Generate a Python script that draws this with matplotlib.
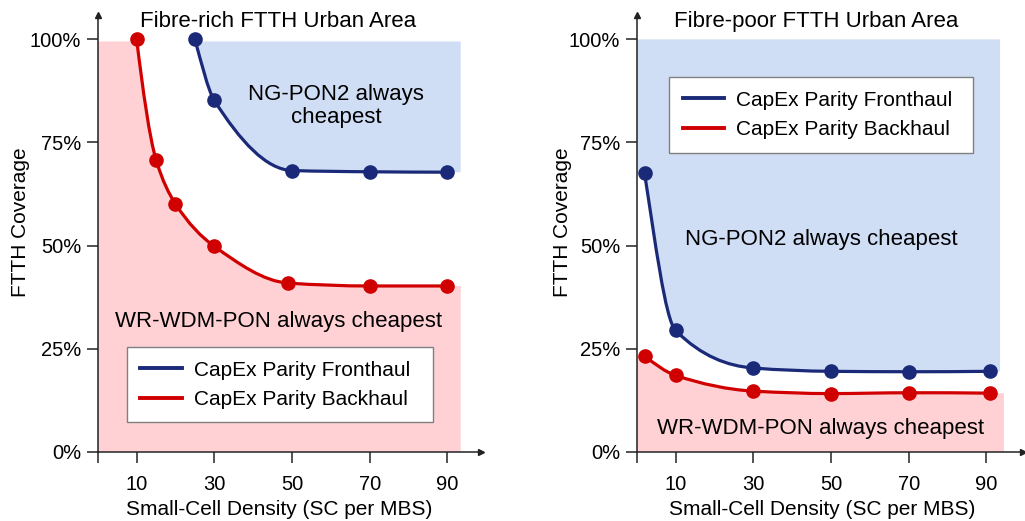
import matplotlib
matplotlib.use('Agg')
import matplotlib.pyplot as plt
from matplotlib.path import Path
from matplotlib.patches import PathPatch
from matplotlib.lines import Line2D
import numpy as np

plt.rcParams['font.family'] = ['Liberation Sans', 'DejaVu Sans']
plt.rcParams['font.size'] = 15

# fibre-rich FTTH area (y in % coverage)
rich_front_x = [25, 30, 50, 70, 90]
rich_front_y = [100, 85.2, 68.2, 67.9, 67.8]
rich_back_x = [10, 15, 20, 30, 49, 70, 90]
rich_back_y = [100, 70.8, 60.1, 49.8, 40.9, 40.2, 40.2]

# fibre-poor FTTH area
poor_front_x = [2, 10, 30, 50, 70, 91]
poor_front_y = [67.6, 29.4, 20.3, 19.5, 19.4, 19.5]
poor_back_x = [2, 10, 30, 50, 70, 91]
poor_back_y = [23.2, 18.5, 14.7, 14.1, 14.3, 14.2]

xticks = [0, 10, 30, 50, 70, 90]
xtick_labels = ['', '10', '30', '50', '70', '90']
yticks = [0, 25, 50, 75, 100]
ytick_labels = ['0%', '25%', '50%', '75%', '100%']

BLUE = '#1B2A78'
RED = '#D10000'
BLUE_FILL = '#CFDDF5'
PINK_FILL = '#FFD1D4'
AXC = '#222222'


def tangents(x, y):
    # monotone (fritsch-carlson) slopes so the smoothed line doesn't overshoot
    h = np.diff(x)
    d = np.diff(y) / h
    n = len(x)
    m = np.zeros(n)
    for k in range(1, n - 1):
        if d[k - 1] * d[k] <= 0:
            m[k] = 0
        else:
            w1 = 2 * h[k] + h[k - 1]
            w2 = h[k] + 2 * h[k - 1]
            m[k] = (w1 + w2) / (w1 / d[k - 1] + w2 / d[k])
    m[0] = d[0] if n < 3 else ((2 * h[0] + h[1]) * d[0] - h[0] * d[1]) / (h[0] + h[1])
    if np.sign(m[0]) != np.sign(d[0]):
        m[0] = 0
    m[-1] = d[-1] if n < 3 else ((2 * h[-1] + h[-2]) * d[-1] - h[-1] * d[-2]) / (h[-1] + h[-2])
    if np.sign(m[-1]) != np.sign(d[-1]):
        m[-1] = 0
    return m


def smooth(xs, ys, reverse=False):
    x = np.asarray(xs, float)
    y = np.asarray(ys, float)
    m = tangents(x, y)
    segs = []
    for i in range(len(x) - 1):
        dx = x[i + 1] - x[i]
        segs.append([(x[i], y[i]), (x[i] + dx / 3, y[i] + m[i] * dx / 3),
                     (x[i + 1] - dx / 3, y[i + 1] - m[i + 1] * dx / 3), (x[i + 1], y[i + 1])])
    if reverse:
        segs = [s[::-1] for s in segs[::-1]]
    verts = [segs[0][0]]
    codes = [Path.MOVETO]
    for s in segs:
        verts += s[1:]
        codes += [Path.CURVE4] * 3
    return verts, codes


def fill_path(ax, before, xs, ys, after, color, reverse=False):
    cv, cc = smooth(xs, ys, reverse)
    verts = list(before) + cv + list(after) + [before[0]]
    codes = [Path.MOVETO] + [Path.LINETO] * len(before) + cc[1:] \
        + [Path.LINETO] * len(after) + [Path.CLOSEPOLY]
    ax.add_patch(PathPatch(Path(verts, codes), facecolor=color, edgecolor='none', zorder=1))


def curve(ax, xs, ys, color):
    v, c = smooth(xs, ys)
    ax.add_patch(PathPatch(Path(v, c), fill=False, edgecolor=color, lw=2.3,
                           capstyle='round', zorder=2))
    ax.plot(xs, ys, 'o', color=color, ms=9.5, zorder=3, clip_on=False)


def setup(ax, xmax):
    ax.set_xlim(0, xmax)
    ax.set_ylim(0, 106)
    for s in ['top', 'right']:
        ax.spines[s].set_visible(False)
    for s in ['left', 'bottom']:
        ax.spines[s].set_linewidth(1.1)
        ax.spines[s].set_color(AXC)
    ax.plot(1, 0, '>', color=AXC, ms=5, transform=ax.transAxes, clip_on=False)
    ax.plot(0, 1, '^', color=AXC, ms=5, transform=ax.transAxes, clip_on=False)
    ax.set_xticks(xticks, xtick_labels)
    ax.set_yticks(yticks, ytick_labels)
    ax.tick_params(axis='both', direction='out', length=8, width=1.1, color=AXC,
                   labelsize=14.5)
    ax.tick_params(axis='x', pad=8.5)
    ax.tick_params(axis='y', pad=4)
    ax.set_xlabel('Small-Cell Density (SC per MBS)', fontsize=15)
    ax.set_ylabel('FTTH Coverage', fontsize=15)


handles = [Line2D([], [], color=BLUE, lw=2.8), Line2D([], [], color=RED, lw=2.8)]
labels = ['CapEx Parity Fronthaul', 'CapEx Parity Backhaul']
leg_kw = dict(loc='upper left', mode='expand', borderaxespad=0, fancybox=False,
              framealpha=1, edgecolor='#808080', handlelength=2.0, handletextpad=0.55,
              borderpad=0.65, labelspacing=0.5, fontsize=15)

fig = plt.figure(figsize=(10.25, 5.21), dpi=100)
ax1 = fig.add_axes([0.0954, 0.133, 0.3734, 0.8388])
ax2 = fig.add_axes([0.6212, 0.133, 0.3772, 0.8388])

# left panel
setup(ax1, 98.5)
fill_path(ax1, [(0, 0), (0, 99.5), (10, 99.5)], rich_back_x, rich_back_y,
          [(93.4, rich_back_y[-1]), (93.4, 0)], PINK_FILL)
fill_path(ax1, [(25, 99.5)], rich_front_x, rich_front_y,
          [(93.4, rich_front_y[-1]), (93.4, 99.5)], BLUE_FILL)
curve(ax1, rich_back_x, rich_back_y, RED)
curve(ax1, rich_front_x, rich_front_y, BLUE)
ax1.text(46.3, 104.4, 'Fibre-rich FTTH Urban Area', ha='center', va='center', fontsize=16)
ax1.text(61.3, 83.9, 'NG-PON2 always\ncheapest', ha='center', va='center',
         linespacing=1.1, fontsize=16, zorder=4)
ax1.text(46.6, 31.5, 'WR-WDM-PON always cheapest', ha='center', va='center',
         fontsize=16, zorder=4)
ax1.yaxis.set_label_coords(-0.178, 0.526)
ax1.xaxis.set_label_coords(0.473, -0.11)
leg1 = ax1.legend(handles, labels, bbox_to_anchor=(0.076, 0.068, 0.80, 0.1716), **leg_kw)
leg1.get_frame().set_linewidth(1.0)
leg1.set_zorder(5)

# right panel
setup(ax2, 99.5)
fill_path(ax2, [(0, 0), (0, poor_back_y[0])], poor_back_x, poor_back_y,
          [(94.5, poor_back_y[-1]), (94.5, 0)], PINK_FILL)
fill_path(ax2, [(0, 100), (93.5, 100), (93.5, poor_front_y[-1])],
          poor_front_x, poor_front_y, [(0, poor_front_y[0])], BLUE_FILL, reverse=True)
curve(ax2, poor_back_x, poor_back_y, RED)
curve(ax2, poor_front_x, poor_front_y, BLUE)
ax2.text(46.3, 104.4, 'Fibre-poor FTTH Urban Area', ha='center', va='center', fontsize=16)
ax2.text(47.4, 51.4, 'NG-PON2 always cheapest', ha='center', va='center',
         fontsize=16, zorder=4)
ax2.text(47.4, 5.7, 'WR-WDM-PON always cheapest', ha='center', va='center',
         fontsize=16, zorder=4)
ax2.yaxis.set_label_coords(-0.168, 0.526)
ax2.xaxis.set_label_coords(0.479, -0.11)
leg2 = ax2.legend(handles, labels, bbox_to_anchor=(0.0835, 0.687, 0.786, 0.17), **leg_kw)
leg2.get_frame().set_linewidth(1.0)
leg2.set_zorder(5)

fig.savefig('out.png', dpi=100)
